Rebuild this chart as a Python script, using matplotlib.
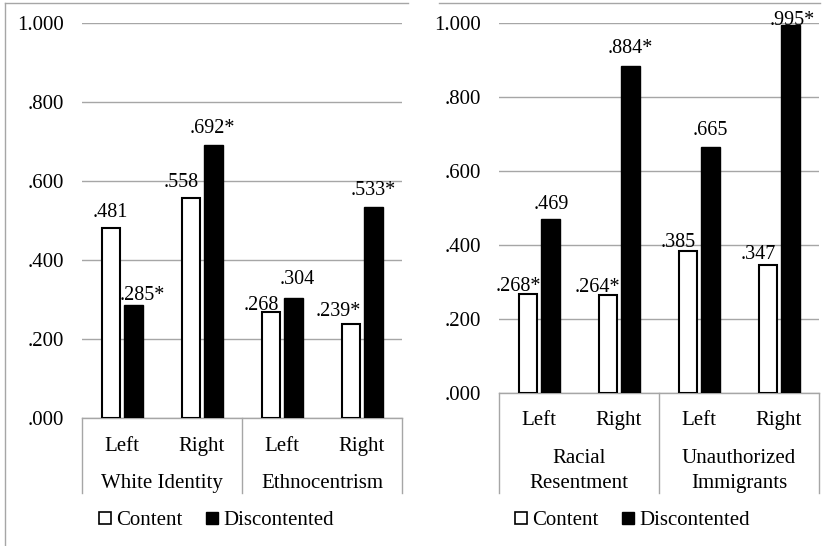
import matplotlib
matplotlib.use('Agg')
import matplotlib.pyplot as plt
from matplotlib.lines import Line2D
from matplotlib.transforms import blended_transform_factory

plt.rcParams['font.family'] = ['Liberation Serif', 'DejaVu Serif']

# ---------------- data ----------------
sub_labels = ['Left', 'Right', 'Left', 'Right']
left_groups = ['White Identity', 'Ethnocentrism']
right_groups = ['Racial\nResentment', 'Unauthorized\nImmigrants']

left_content = [0.481, 0.558, 0.268, 0.239]
left_disc = [0.285, 0.692, 0.304, 0.533]
left_content_sig = [False, False, False, True]
left_disc_sig = [True, True, False, True]

right_content = [0.268, 0.264, 0.385, 0.347]
right_disc = [0.469, 0.884, 0.665, 0.995]
right_content_sig = [True, True, False, False]
right_disc_sig = [False, True, False, True]

yticks = [0.0, 0.2, 0.4, 0.6, 0.8, 1.0]
ytick_labels = ['.000', '.200', '.400', '.600', '.800', '1.000']
series_names = ['Content', 'Discontented']

# label placement tweaks (pixels): (dx, gap above bar top)
left_content_off = [(-1, 11), (-10, 11), (-10, 2), (-13, 8)]
left_disc_off = [(9, 5), (-1, 12), (4, 14), (0, 12)]
right_content_off = [(-10, 3), (-11, 3), (-10, 4), (-10, 6)]
right_disc_off = [(1, 10), (0, 13), (0, 12), (2, 0)]

W, H = 832, 546
GRAY = '#a6a6a6'
FS = 15

fig = plt.figure(figsize=(W / 100, H / 100), dpi=100)


def fmt(v, sig):
    return f"{v:.3f}".lstrip('0') + ('*' if sig else '')


def panel(rect, content, disc, csig, dsig, coff, doff, groups, sub_y, grp_y, sep_len):
    ax = fig.add_axes(rect)
    xs = list(range(len(content)))
    bw = 0.23
    xc = [x - 0.135 for x in xs]
    xd = [x + 0.145 for x in xs]
    ax.bar(xc, content, width=bw, color='white', edgecolor='black', linewidth=1.5, zorder=3)
    ax.bar(xd, disc, width=bw, color='black', edgecolor='black', linewidth=1.0, zorder=3)
    ax.set_xlim(-0.5, len(content) - 0.5)
    ax.set_ylim(0, 1.0)
    ax.set_yticks(yticks)
    ax.set_yticklabels(ytick_labels, fontsize=FS)
    ax.set_xticks([])
    ax.tick_params(axis='y', length=0, pad=13)
    ax.yaxis.grid(True, color=GRAY, linewidth=1)
    ax.set_axisbelow(True)
    for s in ['top', 'left', 'right']:
        ax.spines[s].set_visible(False)
    ax.spines['bottom'].set_color(GRAY)
    ax.spines['bottom'].set_linewidth(1)

    for x, v, s, (dx, dy) in zip(xc, content, csig, coff):
        ax.annotate(fmt(v, s), xy=(x, v), xytext=(dx, dy), textcoords='offset pixels',
                    ha='center', va='baseline', fontsize=FS - 0.5, zorder=4)
    for x, v, s, (dx, dy) in zip(xd, disc, dsig, doff):
        ax.annotate(fmt(v, s), xy=(x, v), xytext=(dx, dy), textcoords='offset pixels',
                    ha='center', va='baseline', fontsize=FS - 0.5, zorder=4)

    for x, lab in zip(xs, sub_labels):
        ax.annotate(lab, xy=(x, 0), xycoords=('data', 'axes fraction'),
                    xytext=(0, -sub_y), textcoords='offset pixels',
                    ha='center', va='baseline', fontsize=FS)
    for gi, g in enumerate(groups):
        gx = 2 * gi + 0.5
        for li, line in enumerate(g.split('\n')):
            ax.annotate(line, xy=(gx, 0), xycoords=('data', 'axes fraction'),
                        xytext=(0, -(grp_y + 25 * li)), textcoords='offset pixels',
                        ha='center', va='baseline', fontsize=FS)
    tr = blended_transform_factory(ax.transData, ax.transAxes)
    hpx = rect[3] * H
    for sx in [-0.5, 1.5, 3.5]:
        ax.plot([sx, sx], [0, -sep_len / hpx], transform=tr, color=GRAY,
                linewidth=1, clip_on=False)
    return ax


axL = panel([82 / W, (H - 418) / H, 320 / W, 395 / H], left_content, left_disc,
            left_content_sig, left_disc_sig, left_content_off, left_disc_off,
            left_groups, 33, 70, 75)
axR = panel([499 / W, (H - 393) / H, 320 / W, 370 / H], right_content, right_disc,
            right_content_sig, right_disc_sig, right_content_off, right_disc_off,
            right_groups, 32, 70, 100)

# outer frame lines
fig.add_artist(Line2D([5 / W, 5 / W], [1 - 3 / H, 0], transform=fig.transFigure, color=GRAY, linewidth=1))
fig.add_artist(Line2D([5 / W, 408 / W], [1 - 3 / H, 1 - 3 / H], transform=fig.transFigure, color=GRAY, linewidth=1))
fig.add_artist(Line2D([439 / W, 820 / W], [1 - 3 / H, 1 - 3 / H], transform=fig.transFigure, color=GRAY, linewidth=1))

# legends
handles = [Line2D([], [], marker='s', linestyle='none', markersize=8, markerfacecolor='white',
                  markeredgecolor='black', markeredgewidth=1.2),
           Line2D([], [], marker='s', linestyle='none', markersize=8, markerfacecolor='black',
                  markeredgecolor='black')]
for cx in [216, 632]:
    fig.legend(handles, series_names, loc='center', bbox_to_anchor=(cx / W, 1 - 520 / H),
               ncol=2, frameon=False, handlelength=0.6, handletextpad=0.25,
               columnspacing=1.1, fontsize=FS, borderaxespad=0, borderpad=0)

fig.savefig('out.png', dpi=100)
